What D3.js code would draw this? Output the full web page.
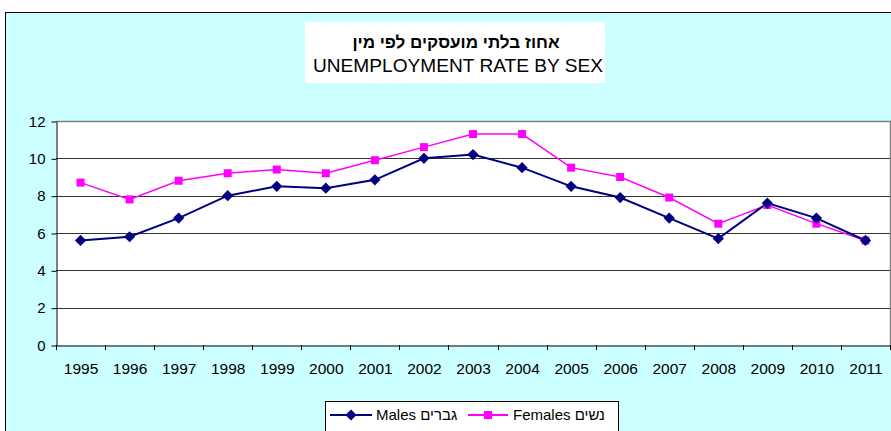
<!DOCTYPE html>
<html><head><meta charset="utf-8">
<script src="https://cdn.jsdelivr.net/npm/d3@7"></script>
<style>body{margin:0;background:#fff}svg{display:block}text{font-family:Arial,"Liberation Sans",sans-serif}</style>
</head><body>
<svg id="c" width="891" height="431"></svg>
<script>
const years = ["1995","1996","1997","1998","1999","2000","2001","2002","2003","2004","2005","2006","2007","2008","2009","2010","2011"];
const males = [5.6,5.8,6.8,8.0,8.5,8.4,8.85,10.0,10.2,9.5,8.5,7.9,6.8,5.7,7.6,6.8,5.6];
const females = [8.7,7.8,8.8,9.2,9.4,9.2,9.9,10.6,11.3,11.3,9.5,9.0,7.9,6.5,7.5,6.5,5.6];
const yTicks = [0,2,4,6,8,10,12];
const titleHe = "אחוז בלתי מועסקים לפי מין";
const titleEn = "UNEMPLOYMENT RATE BY SEX";
const legendLabels = ["Males גברים","Females נשים"];

const svg = d3.select("#c");
svg.append("rect").attr("x",5.5).attr("y",12.5).attr("width",900).attr("height",430)
  .attr("fill","#CCFFFF").attr("stroke","#000");

// title
svg.append("rect").attr("x",305).attr("y",22).attr("width",300).attr("height",61).attr("fill","#fff");
svg.append("text").attr("x",456).attr("y",48).attr("text-anchor","middle")
  .attr("font-size",17).attr("font-weight","bold").attr("direction","rtl").text(titleHe);
svg.append("text").attr("x",458).attr("y",72).attr("text-anchor","middle")
  .attr("font-size",18).attr("textLength",290).attr("lengthAdjust","spacingAndGlyphs").text(titleEn);

const L=56, R=890, T=121, B=345;
const x = d3.scaleBand().domain(years).range([L,R]);
const y = d3.scaleLinear().domain([0,12]).range([B,T]);

svg.append("rect").attr("x",L).attr("y",T).attr("width",R-L).attr("height",B-T).attr("fill","#fff");
// grid
svg.append("g").selectAll("line").data(yTicks.filter(d=>d>0&&d<12)).join("line")
  .attr("x1",L).attr("x2",R).attr("y1",d=>Math.round(y(d))+0.5).attr("y2",d=>Math.round(y(d))+0.5)
  .attr("stroke","#333").attr("stroke-width",1);
// border top/right
svg.append("path").attr("d",`M${L},${T+0.5}H${R+0.5}V${B}`).attr("fill","none").attr("stroke","#808080").attr("stroke-width",1.5);

// y axis
const ya = svg.append("g").attr("transform",`translate(${L+0.5},0.5)`)
  .call(d3.axisLeft(y).tickValues(yTicks).tickSize(5).tickPadding(6).tickSizeOuter(0));
ya.select(".domain").attr("stroke","#000");
ya.selectAll("text").attr("font-size",15).attr("font-family","Arial, 'Liberation Sans', sans-serif").attr("fill","#000");
ya.selectAll("line").attr("stroke","#000");

// x axis
const xa = svg.append("g").attr("transform",`translate(0.5,${B+0.5})`)
  .call(d3.axisBottom(x).tickSize(0).tickPadding(17));
xa.select(".domain").attr("stroke","#000");
xa.selectAll("text").attr("font-size",15.5).attr("font-family","Arial, 'Liberation Sans', sans-serif").attr("fill","#000");
svg.append("g").selectAll("line").data(years.concat(["end"])).join("line")
  .attr("x1",(d,i)=>Math.round(L+i*x.step())+0.5).attr("x2",(d,i)=>Math.round(L+i*x.step())+0.5)
  .attr("y1",B).attr("y2",B+5).attr("stroke","#000");

const cx = d=>x(d)+x.bandwidth()/2;
const line = arr => d3.line().x((d,i)=>cx(years[i])).y(d=>y(d))(arr);

svg.append("path").attr("d",line(females)).attr("fill","none").attr("stroke","#FF00FF").attr("stroke-width",1.5);
svg.append("path").attr("d",line(males)).attr("fill","none").attr("stroke","#000080").attr("stroke-width",2);

svg.append("g").selectAll("path").data(females).join("path")
  .attr("d",d3.symbol().type(d3.symbolSquare).size(64)).attr("transform",(d,i)=>`translate(${cx(years[i])},${y(d)})`).attr("fill","#FF00FF");
svg.append("g").selectAll("path").data(males).join("path")
  .attr("d",d3.symbol().type(d3.symbolDiamond2).size(80))
  .attr("transform",(d,i)=>`translate(${cx(years[i])},${y(d)})`).attr("fill","#000080");

// legend
const lg = svg.append("g");
lg.append("rect").attr("x",325.5).attr("y",401.5).attr("width",293).attr("height",40).attr("fill","#fff").attr("stroke","#000");
const items = [{c:"#000080",sym:d3.symbolDiamond2,size:80,x0:330,x1:372,tx:376},
               {c:"#FF00FF",sym:d3.symbolSquare,size:64,x0:468,x1:508,tx:513}];
items.forEach((it,i)=>{
  lg.append("line").attr("x1",it.x0).attr("x2",it.x1).attr("y1",415).attr("y2",415).attr("stroke",it.c).attr("stroke-width",2);
  lg.append("path").attr("d",d3.symbol().type(it.sym).size(it.size)).attr("transform",`translate(${(it.x0+it.x1)/2},415)`).attr("fill",it.c);
  lg.append("text").attr("x",it.tx).attr("y",420).attr("font-size",15).text(legendLabels[i]);
});
</script>
</body></html>
